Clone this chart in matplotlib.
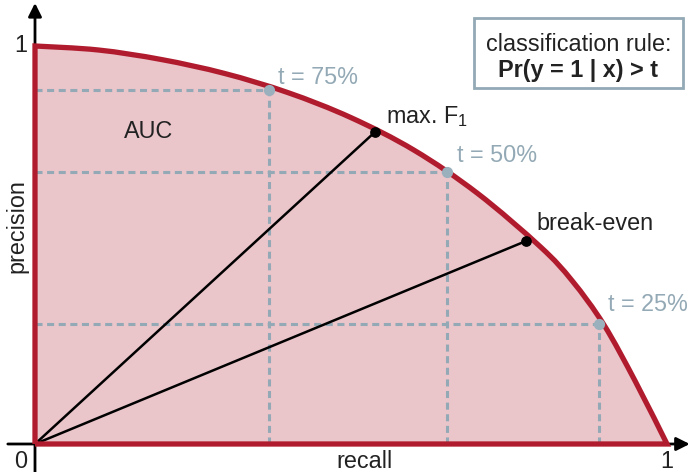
import numpy as np
import matplotlib
matplotlib.use("Agg")
import matplotlib.pyplot as plt
from matplotlib.path import Path
from matplotlib.patches import PathPatch, FancyBboxPatch

plt.rcParams['font.family'] = ['Liberation Sans', 'DejaVu Sans']
plt.rcParams['mathtext.fontset'] = 'custom'
plt.rcParams['mathtext.rm'] = 'Liberation Sans'

# precision-recall curve
curve_recall = [0.0, 0.1, 0.2, 0.3, 0.4, 0.5, 0.6, 0.7, 0.8, 0.85, 0.9, 0.95, 1.0]
curve_precision = [1.0, 0.990, 0.966, 0.931, 0.883, 0.820, 0.738, 0.630, 0.495,
                   0.410, 0.300, 0.157, 0.0]

# threshold operating points
thr_labels = ["t = 75%", "t = 50%", "t = 25%"]
thr_recall = [0.370, 0.652, 0.892]
thr_precision = [0.890, 0.684, 0.302]

# highlighted points joined to the origin
special_labels = ["max. F$_{\\mathregular{1}}$", "break-even"]
special_recall = [0.538, 0.777]
special_precision = [0.784, 0.510]

RED = "#b01c2e"
FILL = "#eac5ca"
GREY = "#93a9b5"
GREY_DOT = "#9ab0bc"
INK = "#222222"


def smooth_segments(xs, ys):
    """Bezier segments (Catmull-Rom style) through the given points."""
    pts = np.column_stack([xs, ys]).astype(float)
    verts, codes = [], []
    n = len(pts)
    for i in range(n - 1):
        p0 = pts[i - 1] if i > 0 else pts[i]
        p1 = pts[i]
        p2 = pts[i + 1]
        p3 = pts[i + 2] if i + 2 < n else pts[i + 1]
        c1 = p1 + (p2 - p0) / 6.0
        c2 = p2 - (p3 - p1) / 6.0
        verts += [c1, c2, p2]
        codes += [Path.CURVE4] * 3
    return verts, codes


seg_v, seg_c = smooth_segments(curve_recall, curve_precision)
verts = [(0.0, 0.0), (curve_recall[0], curve_precision[0])] + seg_v + [(0.0, 0.0)]
codes = [Path.MOVETO, Path.LINETO] + seg_c + [Path.LINETO]
pr_path = Path(verts, codes)

fig = plt.figure(figsize=(6.9, 4.72), dpi=100)
ax = fig.add_axes([0, 0, 1, 1])
ax.set_xlim(-35 / 632, (690 - 35) / 632)
ax.set_ylim((444 - 472) / 398, 444 / 398)
ax.axis('off')

# axes with arrows
ax.annotate('', xy=(1.036, 0), xytext=(-0.043, 0),
            arrowprops=dict(arrowstyle='-|>', color='black', lw=2, mutation_scale=20,
                            shrinkA=0, shrinkB=0), zorder=0)
ax.annotate('', xy=(0, 1.108), xytext=(0, -0.075),
            arrowprops=dict(arrowstyle='-|>', color='black', lw=2, mutation_scale=20,
                            shrinkA=0, shrinkB=0), zorder=0)

# area under the curve
ax.add_patch(PathPatch(pr_path, facecolor=FILL, edgecolor='none', zorder=1))

# dashed guides to each threshold point
dash = (0, (2.3, 1.5))
for x, y in zip(thr_recall, thr_precision):
    ax.plot([0, x], [y, y], color=GREY, lw=2.2, ls=dash, zorder=2)
    ax.plot([x, x], [0, y], color=GREY, lw=2.2, ls=dash, zorder=2)

# lines from the origin
for x, y in zip(special_recall, special_precision):
    ax.plot([0, x], [0, y], color='black', lw=1.8, zorder=3, solid_capstyle='round')

# curve outline
ax.add_patch(PathPatch(pr_path, facecolor='none', edgecolor=RED, lw=3.8,
                       joinstyle='miter', zorder=4))

ax.scatter(special_recall, special_precision, s=45, color='black', zorder=6)
ax.scatter(thr_recall, thr_precision, s=65, color=GREY_DOT, zorder=5, linewidths=0)

# labels
fs = 16.8
ax.text(0.179, 0.786, "AUC", fontsize=fs, color=INK, ha='center', va='center')
ax.text(0.385, 0.92, thr_labels[0], fontsize=fs, color=GREY, ha='left', va='center')
ax.text(0.667, 0.725, thr_labels[1], fontsize=fs, color=GREY, ha='left', va='center')
ax.text(0.906, 0.350, thr_labels[2], fontsize=fs, color=GREY, ha='left', va='center')
ax.text(0.555, 0.822, special_labels[0], fontsize=fs, color=INK, ha='left', va='center')
ax.text(0.794, 0.553, special_labels[1], fontsize=fs, color=INK, ha='left', va='center')

ax.text(-0.022, -0.045, "0", fontsize=fs, color=INK, ha='center', va='center')
ax.text(-0.022, 1.0, "1", fontsize=fs, color=INK, ha='center', va='center')
ax.text(1.0, -0.045, "1", fontsize=fs, color=INK, ha='center', va='center')
ax.text(0.522, -0.045, "recall", fontsize=fs, color=INK, ha='center', va='center')
ax.text(-0.029, 0.548, "precision", fontsize=fs, color=INK, ha='center',
        va='center', rotation=90)

# rule box
bx0, by0 = (474 - 35) / 632, (444 - 88) / 398
bx1, by1 = (683 - 35) / 632, (444 - 18) / 398
ax.add_patch(FancyBboxPatch((bx0, by0), bx1 - bx0, by1 - by0, boxstyle='square,pad=0',
                            facecolor='white', edgecolor=GREY, lw=2, zorder=7))
cx = (bx0 + bx1) / 2
ax.text(cx, (444 - 44) / 398, "classification rule:", fontsize=fs, color=INK,
        ha='center', va='center', zorder=8)
ax.text(cx, (444 - 70) / 398, "Pr(y = 1 | x) > t", fontsize=fs, color=INK,
        ha='center', va='center', fontweight='bold', zorder=8)

fig.savefig("out.png", dpi=100)
